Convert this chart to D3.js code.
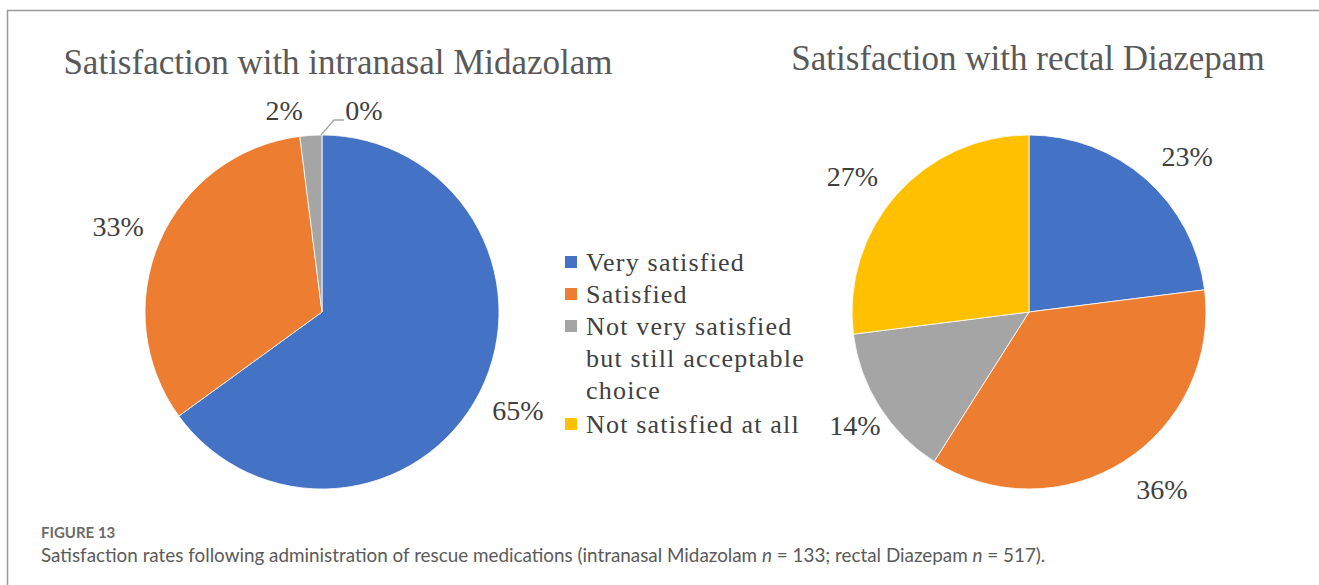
<!DOCTYPE html>
<html>
<head>
<meta charset="utf-8">
<script src="https://cdn.jsdelivr.net/npm/d3@7"></script>
<style>
  html, body { margin: 0; padding: 0; background: #fff; }
  svg { display: block; }
</style>
</head>
<body>
<svg id="chart" width="1319" height="585"></svg>
<script>
// ---- data ----
const categories = ["Very satisfied", "Satisfied", "Not very satisfied but still acceptable choice", "Not satisfied at all"];
const legendLines = [["Very satisfied"], ["Satisfied"], ["Not very satisfied", "but still acceptable", "choice"], ["Not satisfied at all"]];
const midazolamValues = [65, 33, 2, 0];
const diazepamValues = [23, 36, 14, 27];
const titles = ["Satisfaction with intranasal Midazolam", "Satisfaction with rectal Diazepam"];
const captionLabel = "FIGURE 13";
const colors = ["#4472C4", "#ED7D31", "#A5A5A5", "#FFC000"];

// ---- layout ----
const W = 1319, H = 585;
const svg = d3.select("#chart");
const serif = "'Liberation Serif', 'Times New Roman', serif";

// frame
svg.append("line").attr("x1", 7).attr("x2", W).attr("y1", 10.5).attr("y2", 10.5)
  .attr("stroke", "#9a9a9a").attr("stroke-width", 1.5);
svg.append("line").attr("x1", 7.5).attr("x2", 7.5).attr("y1", 10).attr("y2", H)
  .attr("stroke", "#9a9a9a").attr("stroke-width", 1.5);

const color = d3.scaleOrdinal().domain(categories).range(colors);
const pie = d3.pie().sort(null).value(d => d.v).startAngle(0).endAngle(2 * Math.PI);

const R = 177;
const pies = [
  { cx: 322, cy: 312, values: midazolamValues, title: titles[0], tx: 338, ty: 74,
    labelR: 220, nudges: [[0, -2], [-2, 2], [-24, 18], [42, 18]], leader: 3 },
  { cx: 1029, cy: 312, values: diazepamValues, title: titles[1], tx: 1028, ty: 70,
    labelR: 218, nudges: [[14, 8], [16, -7], [10, -4], [-13, 8]], leader: -1 }
];

pies.forEach(p => {
  const data = categories.map((c, i) => ({ c, v: p.values[i] }));
  const arcs = pie(data);
  const arc = d3.arc().innerRadius(0).outerRadius(R);
  const g = svg.append("g").attr("transform", `translate(${p.cx},${p.cy})`);
  g.selectAll("path.slice").data(arcs.filter(d => d.data.v > 0)).join("path")
    .attr("class", "slice")
    .attr("d", arc)
    .attr("fill", d => color(d.data.c))
    .attr("stroke", "#ffffff").attr("stroke-width", 0.8);

  const labelArc = d3.arc().innerRadius(p.labelR).outerRadius(p.labelR);
  arcs.forEach((d, i) => {
    const [x, y] = labelArc.centroid(d);
    const lx = x + p.nudges[i][0], ly = y + p.nudges[i][1];
    g.append("text")
      .attr("x", lx).attr("y", ly)
      .attr("dy", "0.35em")
      .attr("text-anchor", "middle")
      .attr("font-family", serif).attr("font-size", 28)
      .attr("fill", "#404040")
      .text(Math.round(d.data.v) + "%");
    if (i === p.leader) {
      const a = (d.startAngle + d.endAngle) / 2;
      const sx = R * Math.sin(a) - 1, sy = -R * Math.cos(a);
      const ex = lx - 20, ey = ly + 10;
      g.append("polyline")
        .attr("points", `${sx},${sy} ${ex - 10},${ey} ${ex},${ey}`)
        .attr("fill", "none").attr("stroke", "#A5A5A5").attr("stroke-width", 1.3);
    }
  });

  svg.append("text")
    .attr("x", p.tx).attr("y", p.ty)
    .attr("text-anchor", "middle")
    .attr("font-family", serif).attr("font-size", 35)
    .attr("fill", "#595959")
    .text(p.title);
});

// legend
const legend = svg.append("g").attr("transform", "translate(565,0)");
const legendRows = [262, 294, 326, 424];
const lineH = 32;
categories.forEach((c, i) => {
  const y0 = legendRows[i];
  legend.append("rect").attr("x", 0).attr("y", y0 - 6).attr("width", 12).attr("height", 12)
    .attr("fill", color(c));
  legendLines[i].forEach((t, j) => {
    legend.append("text")
      .attr("x", 21).attr("y", y0 + j * lineH)
      .attr("dy", "0.35em")
      .attr("font-family", serif).attr("font-size", 26)
      .attr("letter-spacing", 1.2)
      .attr("fill", "#404040")
      .text(t);
  });
});

// caption
svg.append("text").attr("x", 41).attr("y", 538)
  .attr("font-family", "Lato, 'Open Sans', sans-serif").attr("font-size", 15)
  .attr("font-weight", 700)
  .attr("fill", "#6b6b6b")
  .text(captionLabel);
const cap = svg.append("text").attr("x", 41).attr("y", 562)
  .attr("font-family", "Lato, 'Open Sans', sans-serif").attr("font-size", 18.85)
  .attr("fill", "#5a5a5a");
cap.append("tspan").text("Satisfaction rates following administration of rescue medications (intranasal Midazolam ");
cap.append("tspan").attr("font-style", "italic").text("n");
cap.append("tspan").text(" = 133; rectal Diazepam ");
cap.append("tspan").attr("font-style", "italic").text("n");
cap.append("tspan").text(" = 517).");
</script>
</body>
</html>
